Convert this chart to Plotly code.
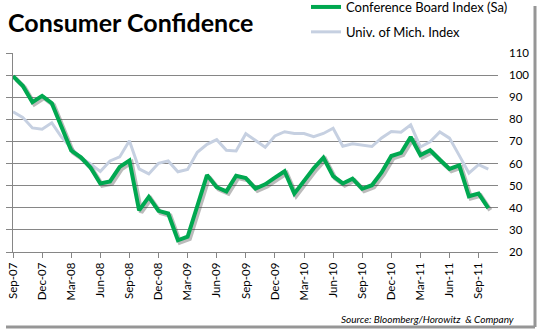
import plotly.graph_objects as go

months = ["Sep-07","Oct-07","Nov-07","Dec-07","Jan-08","Feb-08","Mar-08","Apr-08","May-08","Jun-08",
          "Jul-08","Aug-08","Sep-08","Oct-08","Nov-08","Dec-08","Jan-09","Feb-09","Mar-09","Apr-09",
          "May-09","Jun-09","Jul-09","Aug-09","Sep-09","Oct-09","Nov-09","Dec-09","Jan-10","Feb-10",
          "Mar-10","Apr-10","May-10","Jun-10","Jul-10","Aug-10","Sep-10","Oct-10","Nov-10","Dec-10",
          "Jan-11","Feb-11","Mar-11","Apr-11","May-11","Jun-11","Jul-11","Aug-11","Sep-11","Oct-11",
          "Nov-11"]

conference_board = [99.5, 95.2, 87.8, 90.6, 87.3, 76.4, 65.9, 62.8, 58.1, 51.0,
                    51.9, 58.5, 61.4, 38.8, 44.9, 38.6, 37.4, 25.3, 26.9, 40.8,
                    54.8, 49.3, 47.4, 54.5, 53.4, 48.7, 50.6, 53.6, 56.5, 46.4,
                    52.5, 57.9, 62.7, 54.3, 51.0, 53.2, 48.6, 50.2, 56.0, 63.4,
                    64.8, 72.0, 63.8, 66.0, 61.7, 57.6, 59.2, 45.2, 46.4, 39.8]

michigan = [83.4, 80.9, 76.1, 75.5, 78.4, 72.0, 67.0, 62.6, 59.8, 56.4,
            61.2, 63.0, 70.3, 57.6, 55.3, 60.1, 61.2, 56.3, 57.3, 65.1,
            68.7, 70.8, 66.0, 65.7, 73.5, 70.6, 67.4, 72.5, 74.4, 73.6,
            73.6, 72.2, 73.6, 76.0, 67.8, 68.9, 68.2, 67.7, 71.6, 74.5,
            74.2, 77.5, 67.5, 69.8, 74.3, 71.5, 63.7, 55.7, 59.5, 57.5]

tick_labels = months[0:50:3]
y_ticks = list(range(20, 111, 10))

W, H = 543, 336
L, R, T, B = 13, 500, 53, 254  # plot area in px

def px(x):
    return (x - L) / (R - L)

def py(y):
    return (B - y) / (B - T)

GREEN = "rgb(0,168,80)"
BLUE = "rgb(198,208,225)"
GRID = "rgb(134,134,134)"

n = len(conference_board)
xs = months[:n]

fig = go.Figure()
fig.add_trace(go.Scatter(x=xs, y=michigan, mode="lines", name="Univ. of Mich. Index",
                         line=dict(color=BLUE, width=3), xaxis="x", yaxis="y",
                         legendgroup="b", legendrank=2))
fig.add_trace(go.Scatter(x=xs, y=conference_board, mode="lines", showlegend=False,
                         line=dict(color="rgba(60,60,60,0.35)", width=4.5),
                         xaxis="x2", yaxis="y2", hoverinfo="skip"))
fig.add_trace(go.Scatter(x=xs, y=conference_board, mode="lines", name="Conference Board Index (Sa)",
                         line=dict(color=GREEN, width=4), xaxis="x3", yaxis="y3",
                         legendgroup="a", legendrank=1))

dx = 2 / (R - L)
dy = 2 / (B - T)
common_x = dict(type="category", categoryarray=months, range=[0, 50])

fig.update_layout(
    width=W, height=H,
    margin=dict(l=L, r=W - R, t=T, b=H - B, autoexpand=False),
    paper_bgcolor="white", plot_bgcolor="rgba(0,0,0,0)",
    font=dict(family="Lato", color="black"),
    xaxis=dict(**common_x, domain=[0, 1 - dx], tickmode="array", tickvals=tick_labels,
               ticktext=tick_labels, tickangle=-90, ticks="outside", ticklen=5,
               tickcolor=GRID, showline=True, linecolor=GRID, linewidth=1,
               showgrid=False, tickfont=dict(size=11.5, family="Lato"), automargin=False),
    yaxis=dict(range=[20, 110], domain=[dy, 1], tickvals=y_ticks, side="left",
               ticks="outside", ticklen=6, tickcolor=GRID, showline=True, linecolor=GRID,
               showticklabels=False, showgrid=True, gridcolor=GRID, gridwidth=1, zeroline=False,
               automargin=False),
    xaxis2=dict(**common_x, domain=[dx, 1], visible=False, anchor="y2"),
    yaxis2=dict(range=[20, 110], domain=[0, 1 - dy], visible=False, anchor="x2"),
    xaxis3=dict(**common_x, domain=[0, 1 - dx], visible=False, anchor="y3"),
    yaxis3=dict(range=[20, 110], domain=[dy, 1], anchor="x3", side="right",
                tickvals=y_ticks, showgrid=False, zeroline=False, showline=False,
                ticks="", ticklabelstandoff=10, tickfont=dict(size=11.5, family="Lato"),
                automargin=False),
    legend=dict(x=px(306), y=py(-8), xanchor="left", yanchor="top",
                font=dict(size=13, family="Lato"), bgcolor="rgba(0,0,0,0)",
                tracegroupgap=5, itemwidth=30, traceorder="grouped"),
    showlegend=True,
)

fig.add_annotation(text="<b>Consumer Confidence</b>", x=px(6), y=py(22), xref="paper", yref="paper",
                   xanchor="left", yanchor="middle", showarrow=False,
                   font=dict(size=25, family="Lato", color="black"))
fig.add_annotation(text="<i>Source: Bloomberg/Horowitz  &amp; Company</i>", x=px(516), y=py(319),
                   xref="paper", yref="paper", xanchor="right", yanchor="middle", showarrow=False,
                   font=dict(size=10, family="Lato", color="black"))

# frame shadow
fig.add_shape(type="line", xref="paper", yref="paper", x0=px(535), x1=px(535), y0=py(6), y1=py(327),
              line=dict(color="rgb(150,150,150)", width=3))
fig.add_shape(type="line", xref="paper", yref="paper", x0=px(6), x1=px(535), y0=py(327), y1=py(327),
              line=dict(color="rgb(150,150,150)", width=3))

fig.write_html("out.html")
